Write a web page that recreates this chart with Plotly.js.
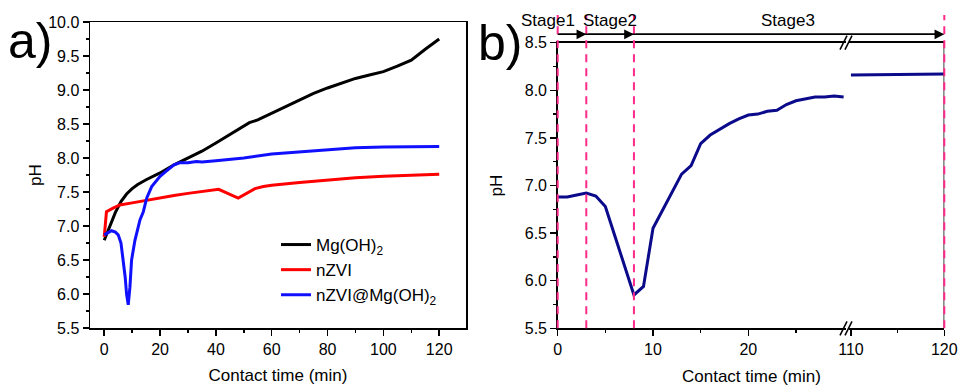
<!DOCTYPE html>
<html>
<head>
<meta charset="utf-8">
<script src="https://cdn.plot.ly/plotly-3.0.1.min.js"></script>
<style>html,body{margin:0;padding:0;background:#fff;}#chart{width:958px;height:385px;}</style>
</head>
<body>
<div id="chart"></div>
<script>
// ---- Panel a) data ----
const seriesNames = ["Mg(OH)<sub>2</sub>", "nZVI", "nZVI@Mg(OH)<sub>2</sub>"];
const mgTime = [0,1,2,4,6,8,10,12,15,20,25,30,35,40,45,50,52,55,60,65,70,75,80,85,90,95,100,105,110,115,120];
const mgPH   = [6.79,6.9,7.0,7.2,7.36,7.47,7.55,7.61,7.68,7.78,7.9,8.0,8.1,8.22,8.35,8.47,8.52,8.56,8.66,8.76,8.86,8.95,9.03,9.1,9.17,9.22,9.27,9.35,9.44,9.6,9.75];
const nzviTime = [0,0.8,3,5.6,10,15,20,25,30,35,41,48,51,54,57,60,70,80,90,100,110,120];
const nzviPH   = [6.84,7.21,7.26,7.31,7.34,7.38,7.41,7.45,7.48,7.51,7.54,7.41,7.48,7.55,7.58,7.60,7.64,7.68,7.71,7.73,7.75,7.76];
const compTime = [0,1,2.6,4,5,6,7,7.5,8,8.6,9.2,9.8,11,12,12.8,14,15.2,17,20,22,25,27,30,33,35,40,50,60,70,80,90,100,110,120];
const compPH   = [6.87,6.89,6.93,6.91,6.87,6.75,6.45,6.25,6.0,5.84,6.1,6.5,6.79,6.97,7.09,7.21,7.41,7.58,7.73,7.80,7.9,7.93,7.93,7.95,7.94,7.96,8.0,8.06,8.09,8.13,8.15,8.16,8.17,8.17];

// ---- Panel b) data (broken time axis) ----
const bTimeEarly = [0,1,2,3,4,5,6,7,8,9,10,11,12,13,14,15,16,17,18,19,20,21,22,23,24,25,26,27,28,29,30];
const bPHEarly   = [6.88,6.88,6.90,6.92,6.89,6.78,6.47,6.16,5.85,5.94,6.55,6.74,6.93,7.12,7.21,7.44,7.53,7.59,7.65,7.70,7.74,7.75,7.78,7.79,7.85,7.89,7.91,7.93,7.93,7.94,7.93];
const bTimeLate  = [110,115,120];
const bPHLate    = [8.16,8.165,8.17];
const stageBounds = [0,3,8,120];
const stageLabels = ["Stage1","Stage2","Stage3"];
const stageLabelPos = [-1.0,5.5,24.2];

const FONT = "Liberation Sans, Arial, sans-serif";
const pink = "#ff2a8a";
const W = 958, H = 385;

const traces = [
  {x: mgTime, y: mgPH, name: seriesNames[0], type: "scatter", mode: "lines", line: {color: "#000000", width: 3}, xaxis: "x", yaxis: "y"},
  {x: nzviTime, y: nzviPH, name: seriesNames[1], type: "scatter", mode: "lines", line: {color: "#ff0000", width: 3}, xaxis: "x", yaxis: "y"},
  {x: compTime, y: compPH, name: seriesNames[2], type: "scatter", mode: "lines", line: {color: "#1010ff", width: 3}, xaxis: "x", yaxis: "y"},
  {x: bTimeEarly, y: bPHEarly, type: "scatter", mode: "lines", showlegend: false, line: {color: "#0a0a8a", width: 3}, xaxis: "x2", yaxis: "y2", cliponaxis: false},
  {x: bTimeLate, y: bPHLate, type: "scatter", mode: "lines", showlegend: false, line: {color: "#0a0a8a", width: 3}, xaxis: "x3", yaxis: "y3", cliponaxis: false}
];

const tickFont = {family: FONT, size: 16, color: "#000"};
const titleFont = {family: FONT, size: 17, color: "#000"};

const baseAxis = {
  showgrid: false, zeroline: false, showline: true, linecolor: "#000", linewidth: 1.5,
  ticks: "outside", ticklen: 6, tickwidth: 1.5, tickcolor: "#000", tickfont: tickFont, automargin: false
};

// panel b geometry (pixels) used for decorations outside the plot area
const bLeft = 557.7, bPxPerMin = 9.53, bRight = 944.3, bTop = 42.7, bBottom = 328.3;
const arrowPy = 34.3, stagePy = 20, pinkTopPy = 15;
function px2x(t){ return t > 100 ? bRight/W : (bLeft + t*bPxPerMin)/W; }
function py2y(p){ return 1 - p/H; }

const shapes = [];
// black right border at 120
shapes.push({type: "line", xref: "x3", yref: "y3", x0: 120, x1: 120, y0: 5.5, y1: 8.5, line: {color: "#000", width: 1.5}});
// pink dashed stage lines
stageBounds.forEach(function(t){
  shapes.push({type: "line", xref: "paper", yref: "paper", x0: px2x(t), x1: px2x(t), y0: py2y(bBottom), y1: py2y(pinkTopPy), line: {color: pink, width: 2, dash: "8px,6px"}});
});
// arrow base line above plot
shapes.push({type: "line", xref: "paper", yref: "paper", x0: bLeft/W, x1: (bRight-6)/W, y0: py2y(arrowPy), y1: py2y(arrowPy), line: {color: "#000", width: 1.5}});
// axis break marks
[bTop, bBottom].forEach(function(py){
  [843.5, 848.5].forEach(function(px){
    shapes.push({type: "line", xref: "paper", yref: "paper", x0: (px-3.5)/W, x1: (px+3.5)/W, y0: py2y(py+7), y1: py2y(py-7), line: {color: "#000", width: 1.5}});
  });
});

const annotations = [
  {text: "a)", xref: "paper", yref: "paper", x: 6/W, y: py2y(41), xanchor: "left", yanchor: "middle", showarrow: false, font: {family: FONT, size: 50, color: "#000"}},
  {text: "b)", xref: "paper", yref: "paper", x: 476/W, y: py2y(43), xanchor: "left", yanchor: "middle", showarrow: false, font: {family: FONT, size: 50, color: "#000"}},
  {text: "Contact time (min)", xref: "paper", yref: "paper", x: 751/W, y: py2y(376), xanchor: "center", yanchor: "middle", showarrow: false, font: titleFont}
];
for (let i = 1; i < stageBounds.length; i++) {
  const head = px2x(stageBounds[i]) * W, tail = px2x(stageBounds[i-1]) * W;
  annotations.push({text: "", xref: "paper", yref: "paper", x: head/W, y: py2y(arrowPy), ax: -(head - tail), ay: 0, showarrow: true, arrowhead: 2, arrowsize: 1.3, arrowwidth: 1.5, arrowcolor: "#000", standoff: 0});
}
stageLabels.forEach(function(s, i){
  annotations.push({text: s, xref: "paper", yref: "paper", x: px2x(stageLabelPos[i]), y: py2y(stagePy), xanchor: "center", yanchor: "middle", showarrow: false, font: titleFont});
});

const layout = {
  width: W, height: H,
  margin: {l: 0, r: 0, t: 0, b: 0},
  paper_bgcolor: "#fff", plot_bgcolor: "#fff",
  font: {family: FONT, color: "#000"},
  showlegend: true,
  legend: {x: 276/W, y: py2y(227), xanchor: "left", yanchor: "top", bgcolor: "rgba(0,0,0,0)", font: {family: FONT, size: 17, color: "#000"}, tracegroupgap: 0},
  xaxis: Object.assign({}, baseAxis, {domain: [90/W, 466/W], range: [-5.1, 129.6], tickmode: "linear", tick0: 0, dtick: 20, mirror: true,
    minor: {dtick: 10, tick0: 0, ticks: "outside", ticklen: 3, tickwidth: 1.5, tickcolor: "#000"},
    title: {text: "Contact time (min)", font: titleFont, standoff: 14}, anchor: "y"}),
  yaxis: Object.assign({}, baseAxis, {domain: [57/H, 363/H], range: [5.5, 10.0], tickmode: "linear", tick0: 5.5, dtick: 0.5, tickformat: ".1f", mirror: true,
    minor: {dtick: 0.25, tick0: 5.5, ticks: "outside", ticklen: 3, tickwidth: 1.5, tickcolor: "#000"},
    title: {text: "pH", font: titleFont, standoff: 2}, anchor: "x"}),
  xaxis2: Object.assign({}, baseAxis, {domain: [bLeft/W, 846/W], range: [0, 30.25], tickvals: [0,10,20], mirror: true,
    minor: {tickvals: [5,15,25], ticks: "outside", ticklen: 3, tickwidth: 1.5, tickcolor: "#000"}, anchor: "y2"}),
  yaxis2: Object.assign({}, baseAxis, {domain: [1-bBottom/H, 1-bTop/H], range: [5.5, 8.5], tickmode: "linear", tick0: 5.5, dtick: 0.5, tickformat: ".1f",
    minor: {dtick: 0.25, tick0: 5.5, ticks: "outside", ticklen: 3, tickwidth: 1.5, tickcolor: "#000"},
    title: {text: "pH", font: titleFont, standoff: 18}, anchor: "x2"}),
  xaxis3: Object.assign({}, baseAxis, {domain: [849/W, bRight/W], range: [109.79, 120], tickvals: [110,120], mirror: true,
    minor: {tickvals: [115], ticks: "outside", ticklen: 3, tickwidth: 1.5, tickcolor: "#000"}, anchor: "y3"}),
  yaxis3: {domain: [1-bBottom/H, 1-bTop/H], range: [5.5, 8.5], visible: false, anchor: "x3", overlaying: "y2"},
  shapes: shapes,
  annotations: annotations
};

Plotly.newPlot("chart", traces, layout, {staticPlot: true, displayModeBar: false});
</script>
</body>
</html>
